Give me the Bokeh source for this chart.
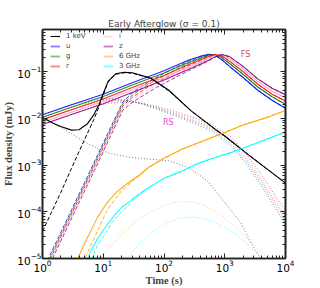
from bokeh.plotting import figure
from bokeh.models import (Legend, LegendItem, FixedTicker, LogTicker, LogAxis, Label,
                          LogTickFormatter, Range1d, CustomJSTickFormatter)
from bokeh.embed import file_html
from bokeh.resources import INLINE

# ---------------- data ----------------
x_ticks = [1, 10, 100, 1000, 10000]
y_ticks = [1e-5, 1e-4, 1e-3, 1e-2, 1e-1]

band_names = ["u", "g", "r", "i", "z"]
band_colors = ["#0000ff", "#008000", "#ff0000", "#ff9fc0", "#800080"]

# total optical (solid)
t_tot = [1, 3, 10, 30, 100, 250, 400, 550, 700, 900, 1200, 2000, 3500, 6000, 10000]
u_tot = [0.0120, 0.0195, 0.033, 0.058, 0.105, 0.175, 0.215, 0.236, 0.225, 0.180, 0.130, 0.075, 0.040, 0.0245, 0.0165]
g_tot = [0.0106, 0.0173, 0.0293, 0.052, 0.094, 0.158, 0.197, 0.228, 0.232, 0.200, 0.150, 0.088, 0.047, 0.029, 0.0200]
r_tot = [0.0094, 0.0153, 0.026, 0.046, 0.083, 0.141, 0.180, 0.214, 0.235, 0.218, 0.168, 0.100, 0.054, 0.033, 0.0235]
i_tot = [0.0083, 0.0136, 0.023, 0.041, 0.074, 0.126, 0.162, 0.196, 0.226, 0.233, 0.190, 0.114, 0.062, 0.038, 0.0275]
z_tot = [0.0074, 0.0121, 0.0205, 0.036, 0.066, 0.112, 0.146, 0.178, 0.210, 0.234, 0.210, 0.130, 0.070, 0.044, 0.0320]

# forward-shock component optical (dashed)
t_fs = [1.2, 2, 4, 7.3, 12, 21, 30, 40, 55, 75, 100, 250, 400, 550, 700, 900, 1200, 2000, 3500, 6000, 10000]
u_fs = [9e-6, 3.6e-5, 2.4e-4, 1.25e-3, 4.9e-3, 0.0225, 0.035, 0.046, 0.059, 0.075, 0.092, 0.167, 0.209, 0.231, 0.221, 0.178, 0.129, 0.075, 0.040, 0.0245, 0.0165]
g_fs = [8e-6, 3.2e-5, 2.15e-4, 1.12e-3, 4.4e-3, 0.0205, 0.031, 0.041, 0.053, 0.067, 0.081, 0.150, 0.191, 0.223, 0.229, 0.198, 0.149, 0.088, 0.047, 0.029, 0.0200]
r_fs = [7.2e-6, 2.9e-5, 1.95e-4, 1.0e-3, 3.95e-3, 0.0185, 0.028, 0.036, 0.047, 0.059, 0.071, 0.133, 0.173, 0.208, 0.231, 0.216, 0.167, 0.100, 0.054, 0.033, 0.0235]
i_fs = [6.5e-6, 2.6e-5, 1.75e-4, 9.0e-4, 3.55e-3, 0.0167, 0.025, 0.032, 0.041, 0.052, 0.063, 0.118, 0.155, 0.190, 0.222, 0.231, 0.189, 0.114, 0.062, 0.038, 0.0275]
z_fs = [5.8e-6, 2.35e-5, 1.58e-4, 8.1e-4, 3.2e-3, 0.015, 0.022, 0.028, 0.036, 0.046, 0.056, 0.104, 0.139, 0.172, 0.206, 0.232, 0.209, 0.130, 0.070, 0.044, 0.0320]

# reverse-shock component optical (dotted)
t_rs = [1, 3, 7, 12, 20, 30, 45, 70, 150, 300, 600, 1260, 2400, 4400, 7400, 10000]
u_rs = [0.0120, 0.0195, 0.0255, 0.0265, 0.0255, 0.0232, 0.0200, 0.0165, 0.0115, 0.0080, 0.0054, 0.0026, 0.00095, 0.00030, 0.000100, 0.000052]
g_rs = [0.0106, 0.0173, 0.0235, 0.0252, 0.0248, 0.0232, 0.0203, 0.0170, 0.0121, 0.0086, 0.0059, 0.0029, 0.00108, 0.00035, 0.000118, 0.000064]
r_rs = [0.0094, 0.0153, 0.0215, 0.0238, 0.0240, 0.0230, 0.0206, 0.0175, 0.0128, 0.0092, 0.0064, 0.0032, 0.00122, 0.00040, 0.000138, 0.000078]
i_rs = [0.0083, 0.0136, 0.0196, 0.0224, 0.0233, 0.0228, 0.0208, 0.0180, 0.0135, 0.0098, 0.0070, 0.0036, 0.00138, 0.00046, 0.000160, 0.000094]
z_rs = [0.0074, 0.0121, 0.0178, 0.0210, 0.0225, 0.0225, 0.0210, 0.0185, 0.0142, 0.0105, 0.0076, 0.0040, 0.00155, 0.00053, 0.000185, 0.000112]

# 1 keV
t_x_tot = [1, 1.5, 2, 3, 4, 5.5, 7, 8.5, 10, 12, 16, 22, 30, 60, 120, 280, 700, 1000, 2400, 5000, 10000]
x_tot = [0.0105, 0.0079, 0.0067, 0.0056, 0.0057, 0.0077, 0.012, 0.0197, 0.034, 0.062, 0.090, 0.097, 0.095, 0.073, 0.040, 0.0145, 0.0058, 0.0042, 0.00170, 0.00082, 0.00041]
t_x_fs = [1, 2, 3, 4, 5.5, 7, 8.5, 10, 12, 16, 22, 30, 60, 120, 280, 700, 1000, 2400, 5000, 10000]
x_fs = [3.8e-5, 2.6e-4, 8.5e-4, 1.95e-3, 4.8e-3, 0.0095, 0.0175, 0.032, 0.060, 0.088, 0.095, 0.093, 0.072, 0.039, 0.0145, 0.0058, 0.0042, 0.00170, 0.00082, 0.00041]
t_x_rs = [1, 1.5, 2.1, 3, 5, 8, 12.4, 26, 62, 118, 250, 530, 975, 1840, 2400, 3000, 3900, 4500]
x_rs = [0.0105, 0.0078, 0.0062, 0.0047, 0.0031, 0.0023, 0.0018, 0.00148, 0.00133, 0.00124, 0.00090, 0.00045, 0.000165, 5.8e-5, 2.9e-5, 1.7e-5, 1.05e-5, 7e-6]

# 6 GHz
t_6_tot = [3.5, 3.8, 5, 6, 8, 11.5, 16, 21, 30, 40, 56, 100, 200, 500, 1000, 2000, 5000, 10000]
f6_tot = [7.5e-6, 1e-5, 2.2e-5, 3.5e-5, 7.5e-5, 1.56e-4, 2.5e-4, 3.4e-4, 4.8e-4, 6.2e-4, 9.0e-4, 1.40e-3, 2.2e-3, 3.5e-3, 5.0e-3, 7.2e-3, 1.05e-2, 1.48e-2]
t_6_fs = [4.5, 5, 6, 8, 11, 15, 20, 30, 40, 56, 100, 200, 500, 1000, 2000, 5000, 10000]
f6_fs = [6e-6, 1e-5, 1.7e-5, 3.8e-5, 9.5e-5, 1.75e-4, 2.8e-4, 4.5e-4, 6.0e-4, 8.9e-4, 1.40e-3, 2.2e-3, 3.5e-3, 5.0e-3, 7.2e-3, 1.05e-2, 1.48e-2]
t_6_rs = [7, 8.2, 12, 16.7, 22.6, 30, 40, 56, 80, 110, 190, 300, 450, 670, 1000, 1500, 2400, 3500, 5000, 6000]
f6_rs = [5e-6, 9e-6, 1.6e-5, 2.6e-5, 3.7e-5, 5.3e-5, 7.2e-5, 9.5e-5, 1.2e-4, 1.42e-4, 1.68e-4, 1.62e-4, 1.4e-4, 1.05e-4, 7.2e-5, 4.8e-5, 2.6e-5, 1.6e-5, 1.05e-5, 8e-6]

# 3 GHz
t_3_tot = [5.3, 6, 8, 11.5, 16, 21, 30, 50, 100, 200, 370, 700, 1260, 2000, 5000, 10000]
f3_tot = [8e-6, 1.3e-5, 2.6e-5, 5.2e-5, 9.0e-5, 1.3e-4, 1.85e-4, 3.0e-4, 5.2e-4, 7.5e-4, 1.1e-3, 1.45e-3, 1.85e-3, 2.3e-3, 3.6e-3, 5.1e-3]
t_3_fs = [6, 6.5, 8, 11, 14, 20, 25, 35, 50, 100, 200, 370, 700, 1260, 2000, 5000, 10000]
f3_fs = [7e-6, 1e-5, 1.9e-5, 3.6e-5, 6.0e-5, 1.0e-4, 1.3e-4, 2.1e-4, 2.95e-4, 5.2e-4, 7.5e-4, 1.1e-3, 1.45e-3, 1.85e-3, 2.3e-3, 3.6e-3, 5.1e-3]
t_3_rs = [20, 25, 30, 43, 56, 80, 110, 190, 300, 450, 670, 1000, 1500, 2400, 3500, 4500]
f3_rs = [7e-6, 1.0e-5, 1.4e-5, 2.4e-5, 3.2e-5, 4.5e-5, 5.8e-5, 7.4e-5, 7.8e-5, 7.2e-5, 6.0e-5, 4.6e-5, 3.4e-5, 2.0e-5, 1.2e-5, 8e-6]

legend_col1 = ["1 keV", "u", "g", "r"]
legend_col2 = ["i", "z", "6 GHz", "3 GHz"]

# ---------------- figure ----------------
BORDER_T, BORDER_B = 29, 29
FIG_W, FIG_H = 320, 288
FRAME_H = FIG_H - BORDER_T - BORDER_B
p = figure(width=FIG_W, height=FIG_H, x_axis_type="log", y_axis_type="log",
           x_range=Range1d(1, 1e4), y_range=Range1d(1e-5, 0.8),
           output_backend="svg", toolbar_location=None,
           min_border_left=40, min_border_right=35, min_border_top=BORDER_T, min_border_bottom=BORDER_B)
p.background_fill_color = "white"
p.border_fill_color = "white"
p.grid.visible = False
p.outline_line_color = "#222222"
p.outline_line_width = 1.6

p.title.text = "Early Afterglow (\u03c3 = 0.1)"
p.title.align = "center"
p.title.text_font = "DejaVu Sans"
p.title.text_font_size = "9px"
p.title.text_font_style = "normal"
p.title.standoff = 2

x_minor = [m * 10 ** k for k in range(0, 4) for m in range(2, 10)]
y_minor = [m * 10.0 ** k for k in range(-5, 0) for m in range(2, 10)]

def style_axis(ax, ticks, minor, show_labels):
    ax.ticker = FixedTicker(ticks=ticks, minor_ticks=minor)
    ax.major_tick_in = 5
    ax.major_tick_out = 0
    ax.minor_tick_in = 3
    ax.minor_tick_out = 0
    ax.major_tick_line_color = "#222222"
    ax.minor_tick_line_color = "#222222"
    ax.axis_line_color = "#222222"
    ax.axis_line_width = 1.6
    ax.major_label_text_font = "DejaVu Sans"
    ax.major_label_text_color = "black"
    if show_labels:
        ax.formatter = LogTickFormatter(ticker=LogTicker())
        ax.major_label_text_font_size = "10.5px"
        ax.major_label_standoff = 1
    else:
        ax.formatter = CustomJSTickFormatter(code="return ''")
        ax.major_label_standoff = 0

style_axis(p.xaxis[0], x_ticks, x_minor, True)
style_axis(p.yaxis[0], y_ticks, y_minor, True)
p.xaxis[0].axis_label = "Time (s)"
p.yaxis[0].axis_label = "Flux density (mJy)"
for ax in (p.xaxis[0], p.yaxis[0]):
    ax.axis_label_text_font = "Liberation Serif"
    ax.axis_label_text_font_style = "bold"
    ax.axis_label_text_font_size = "10.5px"
    ax.axis_label_standoff = 0

top_ax = LogAxis()
style_axis(top_ax, x_ticks, x_minor, False)
p.add_layout(top_ax, "above")
right_ax = LogAxis()
style_axis(right_ax, y_ticks, y_minor, False)
p.add_layout(right_ax, "right")

# ---------------- curves ----------------
tot_list = [u_tot, g_tot, r_tot, i_tot, z_tot]
fs_list = [u_fs, g_fs, r_fs, i_fs, z_fs]
rs_list = [u_rs, g_rs, r_rs, i_rs, z_rs]

# dotted (reverse shock)
for col, ys in zip(band_colors, rs_list):
    p.line(t_rs, ys, line_color=col, line_width=1, line_alpha=0.55, line_dash="1 2")
p.line(t_x_rs, x_rs, line_color="#555555", line_width=1, line_alpha=0.8, line_dash="1 2")
p.line(t_6_rs, f6_rs, line_color="orange", line_width=1, line_alpha=0.6, line_dash="1 2")
p.line(t_3_rs, f3_rs, line_color="cyan", line_width=1, line_alpha=0.7, line_dash="1 2")

# dashed (forward shock)
for col, ys in zip(band_colors, fs_list):
    p.line(t_fs, ys, line_color=col, line_width=1, line_alpha=0.75, line_dash="4 2")
p.line(t_x_fs, x_fs, line_color="black", line_width=1, line_dash="4 2")
p.line(t_6_fs, f6_fs, line_color="orange", line_width=1, line_alpha=0.85, line_dash="4 2")
p.line(t_3_fs, f3_fs, line_color="cyan", line_width=1, line_alpha=0.85, line_dash="4 2")

# solid (total)
for col, ys in zip(band_colors, tot_list):
    p.line(t_tot, ys, line_color=col, line_width=1.1, line_alpha=0.85)
p.line(t_x_tot, x_tot, line_color="black", line_width=1.1)
p.line(t_6_tot, f6_tot, line_color="orange", line_width=1.1, line_alpha=0.9)
p.line(t_3_tot, f3_tot, line_color="cyan", line_width=1.1, line_alpha=0.9)

# ---------------- legend (renderers kept outside the visible range) ----------------
leg_colors = {"1 keV": "black", "u": "#0000ff", "g": "#008000", "r": "#ff0000",
              "i": "#ffc0cb", "z": "#800080", "6 GHz": "orange", "3 GHz": "cyan"}
hidden_t = [0.01, 0.02]
hidden_f = [1e-9, 1e-9]

def make_legend(labels, loc):
    items = []
    for lab in labels:
        alpha = 1.0 if lab == "1 keV" else 0.5
        r = p.line(hidden_t, hidden_f, line_color=leg_colors[lab],
                   line_width=1.8 if lab != "1 keV" else 1.1, line_alpha=alpha)
        items.append(LegendItem(label=lab, renderers=[r]))
    leg = Legend(items=items, location=loc, orientation="vertical",
                 padding=0, margin=0, spacing=0, label_height=10, glyph_height=10,
                 glyph_width=10, label_standoff=6, label_text_font="DejaVu Sans",
                 label_text_font_size="7px", border_line_alpha=0, background_fill_alpha=0)
    p.add_layout(leg, "center")

make_legend(legend_col1, (8, FRAME_H - 43))
make_legend(legend_col2, (61, FRAME_H - 43))

# ---------------- FS / RS labels ----------------
p.add_layout(Label(x=2200, y=0.23, text="FS", text_color="#c0504d", text_font="DejaVu Sans",
                   text_font_size="8px", text_align="center", text_baseline="middle"))
p.add_layout(Label(x=118, y=0.0082, text="RS", text_color="#f03cdc", text_font="DejaVu Sans",
                   text_font_size="8px", text_align="center", text_baseline="middle"))

open("out.html", "w").write(file_html(p, INLINE))
